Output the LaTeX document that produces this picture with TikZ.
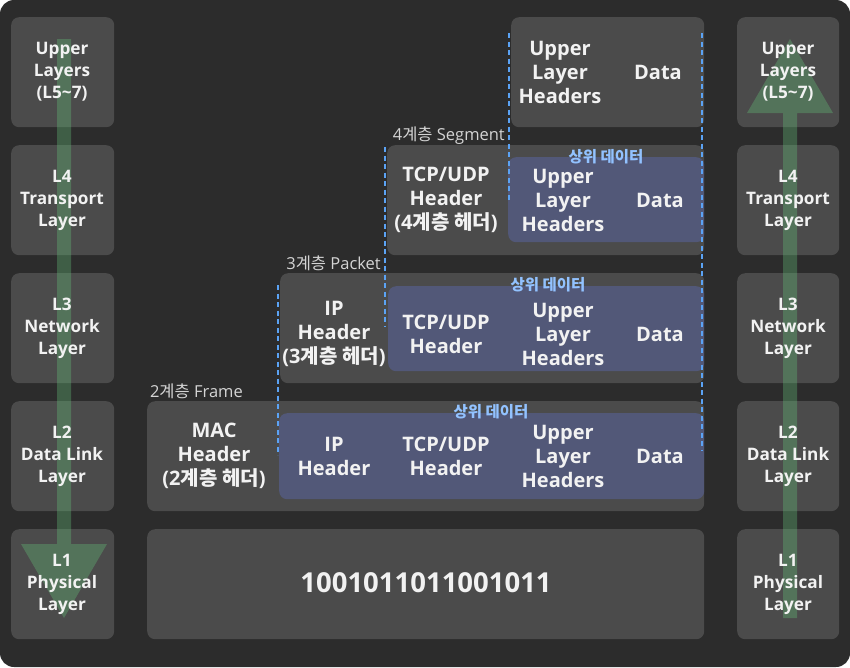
\documentclass[tikz,border=0pt]{standalone}
\usepackage{fontspec}
\usepackage{pdfrender}
\setmainfont{Open Sans}
\newfontfamily\kr{Noto Sans CJK KR}
\definecolor{bgc}{HTML}{2C2C2C}
\definecolor{boxc}{HTML}{4B4B4B}
\definecolor{bluec}{HTML}{525878}
\definecolor{dashc}{HTML}{5BA3F5}
\definecolor{txtc}{HTML}{F2F2F2}
\definecolor{lblc}{HTML}{D4D4D4}
\definecolor{upc}{HTML}{92C2FF}
\definecolor{upo}{HTML}{1E2A48}
\definecolor{arrc}{RGB}{100,190,120}
\newcommand\upmark{\textpdfrender{TextRenderingMode=FillStroke,LineWidth=2,StrokeColor=upo}{상위 데이터}}
\begin{document}
\begin{tikzpicture}[x=1pt,y=-1pt,
  box/.style={fill=boxc, rounded corners=8pt, inner sep=0pt, anchor=north west, minimum width=#1},
  box/.default=103pt,
  inbox/.style={fill=bluec, rounded corners=8pt, inner sep=0pt, anchor=north west},
  side/.style={text=txtc, align=center, inner sep=0pt, font=\bfseries\fontsize{17.2}{22}\selectfont},
  body/.style={text=txtc, align=center, inner sep=0pt, font=\bfseries\fontsize{20}{24}\selectfont},
  sect/.style={text=lblc, inner sep=0pt, font=\fontsize{16.5}{18}\selectfont},
  uplbl/.style={text=upc, inner sep=0pt, font=\kr\bfseries\fontsize{15.5}{17}\selectfont},
  bracket/.style={draw=dashc, line width=2.6pt, dash pattern=on 5pt off 3.5pt},
  bigarrow/.style={fill=arrc, fill opacity=0.35}
]
\useasboundingbox (0,0) rectangle (850,667);
\fill[white] (0,0) rectangle (850,667);
\fill[bgc, rounded corners=14pt] (0,0) rectangle (850,667);

% side columns
\foreach \n/\y in {5/17,4/145,3/273,2/401,1/529}{
  \node[box, minimum height=110pt] (l\n) at (11,\y) {};
  \node[box=102pt, minimum height=110pt] (r\n) at (737,\y) {};
}

% central boxes
\node[box=193pt, minimum height=110pt] (top) at (511,17) {};
\node[box=317pt, minimum height=110pt] (seg) at (387,145) {};
\node[inbox, minimum width=196pt, minimum height=85pt] (segin) at (508,157) {};
\node[box=424pt, minimum height=110pt] (pkt) at (280,273) {};
\node[inbox, minimum width=316pt, minimum height=85pt] (pktin) at (388,286) {};
\node[box=557pt, minimum height=110pt] (frm) at (147,401) {};
\node[inbox, minimum width=425pt, minimum height=86pt] (frmin) at (279,413) {};
\node[box=557pt, minimum height=110pt] (phy) at (147,529) {};

% big arrows
\fill[bigarrow] (57,39) -- (71,39) -- (71,544) -- (107,544) -- (64,618) -- (21,544) -- (57,544) -- cycle;
\fill[bigarrow] (783,618) -- (797,618) -- (797,113) -- (833,113) -- (790,39) -- (747,113) -- (783,113) -- cycle;

% brackets
\draw[bracket] (509,33) -- (509,200);
\draw[bracket] (702,33) -- (702,450);
\draw[bracket] (385,147) -- (385,327);
\draw[bracket] (278,285) -- (278,455);

% side texts
\node[side] (tl5) at (62,72) {Upper\\Layers\\(L5\textasciitilde 7)};
\node[side] (tl4) at (62,200) {L4\\Transport\\Layer};
\node[side] (tl3) at (62,328) {L3\\Network\\Layer};
\node[side] (tl2) at (62,456) {L2\\Data Link\\Layer};
\node[side] (tl1) at (62,584) {L1\\Physical\\Layer};
\node[side] (tr5) at (788,72) {Upper\\Layers\\(L5\textasciitilde 7)};
\node[side] (tr4) at (788,200) {L4\\Transport\\Layer};
\node[side] (tr3) at (788,328) {L3\\Network\\Layer};
\node[side] (tr2) at (788,456) {L2\\Data Link\\Layer};
\node[side] (tr1) at (788,584) {L1\\Physical\\Layer};

% section labels
\node[sect, anchor=east] (s4) at (505,136) {4{\kr 계층} Segment};
\node[sect, anchor=east] (s3) at (381,263) {3{\kr 계층} Packet};
\node[sect, anchor=east] (s2) at (243,391) {2{\kr 계층} Frame};

% upper data labels
\node[uplbl] (u4) at (606,157) {\upmark};
\node[uplbl] (u3) at (548,285) {\upmark};
\node[uplbl] (u2) at (491,412) {\upmark};

% top box
\node[body] (t1) at (560,72) {Upper\\Layer\\Headers};
\node[body] (t2) at (658,72) {Data};
% segment
\node[body] (g1) at (446,200) {TCP/UDP\\Header\\(4{\kr 계층 헤더})};
\node[body] (g2) at (563,200) {Upper\\Layer\\Headers};
\node[body] (g3) at (660,200) {Data};
% packet
\node[body] (p1) at (334,334) {IP\\Header\\(3{\kr 계층 헤더})};
\node[body] (p2) at (446,334) {TCP/UDP\\Header};
\node[body] (p3) at (563,334) {Upper\\Layer\\Headers};
\node[body] (p4) at (660,334) {Data};
% frame
\node[body] (f1) at (214,456) {MAC\\Header\\(2{\kr 계층 헤더})};
\node[body] (f2) at (334,456) {IP\\Header};
\node[body] (f3) at (446,456) {TCP/UDP\\Header};
\node[body] (f4) at (563,456) {Upper\\Layer\\Headers};
\node[body] (f5) at (660,456) {Data};
% physical
\node[body, font=\bfseries\fontsize{27.5}{30}\selectfont] (bits) at (426,583) {1001011011001011};
\end{tikzpicture}
\end{document}
